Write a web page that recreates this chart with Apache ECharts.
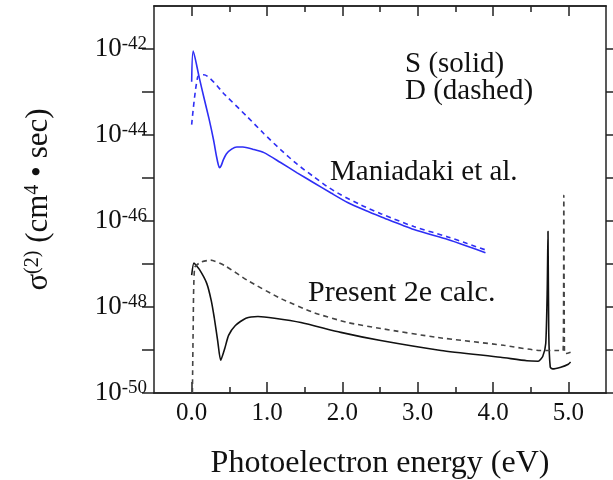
<!DOCTYPE html>
<html>
<head>
<meta charset="utf-8">
<script src="https://cdn.jsdelivr.net/npm/echarts@6/dist/echarts.min.js"></script>
<style>
    html, body {margin: 0; padding: 0; background: #fff;}
    #chart {width: 613px; height: 480px;}
</style>
</head>
<body>
<div id="chart"></div>
<script>
// 数据: 横轴为光电子能量 (eV), 纵轴存 log10(sigma)
var maniadakiSX = [0.0, 0.02, 0.1, 0.16, 0.23, 0.29, 0.33, 0.355, 0.37, 0.39, 0.42, 0.46, 0.53, 0.6, 0.68, 0.81, 0.96, 1.18, 1.4, 1.62, 1.85, 2.07, 2.3, 2.51, 2.95, 3.4, 3.65, 3.9];
var maniadakiSY = [-42.76, -42.05, -42.66, -43.11, -43.62, -44.11, -44.5, -44.7, -44.76, -44.72, -44.58, -44.44, -44.33, -44.28, -44.28, -44.33, -44.41, -44.64, -44.88, -45.11, -45.35, -45.57, -45.75, -45.9, -46.2, -46.43, -46.58, -46.74];
var maniadakiDX = [0.0, 0.08, 0.16, 0.45, 0.74, 0.96, 1.18, 1.4, 1.62, 1.8, 1.98, 2.25, 2.51, 2.95, 3.4, 3.65, 3.93];
var maniadakiDY = [-43.76, -42.65, -42.6, -43.08, -43.58, -43.97, -44.34, -44.68, -44.97, -45.2, -45.39, -45.63, -45.83, -46.13, -46.37, -46.52, -46.69];
var presentSX = [0.0, 0.03, 0.1, 0.2, 0.26, 0.3, 0.345, 0.385, 0.44, 0.49, 0.58, 0.72, 0.88, 1.1, 1.45, 1.98, 2.51, 3.31, 4.1, 4.45, 4.6, 4.66, 4.7, 4.72, 4.73, 4.74, 4.76, 4.79, 4.9, 5.0, 5.03];
var presentSY = [-47.26, -46.98, -47.12, -47.45, -47.85, -48.25, -48.78, -49.24, -48.96, -48.66, -48.43, -48.26, -48.22, -48.26, -48.36, -48.59, -48.78, -49.01, -49.17, -49.25, -49.26, -49.15, -48.85, -47.6, -46.24, -48.6, -49.4, -49.44, -49.4, -49.33, -49.28];
var presentDX = [0.01, 0.02, 0.04, 0.12, 0.25, 0.45, 0.74, 1.18, 1.62, 2.07, 2.51, 3.27, 4.14, 4.63, 4.86, 4.93, 4.94, 4.95, 4.97, 5.03];
var presentDY = [-50, -48.5, -47.08, -46.96, -46.91, -47.05, -47.38, -47.8, -48.13, -48.36, -48.5, -48.71, -48.89, -49.01, -49.01, -49.02, -45.4, -49.08, -49.08, -49.05];

// 刻度
var xMajorTicks = [0, 1, 2, 3, 4, 5];
var xMinorTicks = [0.5, 1.5, 2.5, 3.5, 4.5];
var yTicks = [-50, -49, -48, -47, -46, -45, -44, -43, -42];
var yLabels = [-50, -48, -46, -44, -42];

var SERIF = '"Liberation Serif", "DejaVu Serif", serif';
var BLUE = '#2e2ef5';
var INK = '#111';

function zip(xs, ys) {
    return xs.map(function (x, i) {
        return [x, ys[i]];
    });
}

function xAxisOf(position, ticks, len, extra) {
    var axis = {
        type: 'value',
        position: position,
        min: -0.5,
        max: 5.5,
        splitLine: {show: false},
        axisLine: {show: true, onZero: false, lineStyle: {color: '#222', width: 1.5}},
        axisTick: {show: true, inside: true, length: len, customValues: ticks, lineStyle: {color: '#222', width: 1.5}},
        axisLabel: {show: false}
    };
    return Object.assign(axis, extra || {});
}

function yAxisOf(position, len, extra) {
    var axis = {
        type: 'value',
        position: position,
        min: -50,
        max: -41,
        splitLine: {show: false},
        axisLine: {show: true, onZero: false, lineStyle: {color: '#222', width: 1.5}},
        axisTick: {show: true, inside: false, length: len, customValues: yTicks, lineStyle: {color: '#222', width: 1.5}},
        axisLabel: {show: false}
    };
    return Object.assign(axis, extra || {});
}

function lineOf(name, xs, ys, color, dashed, smooth) {
    return {
        type: 'line',
        name: name,
        data: zip(xs, ys),
        showSymbol: false,
        smooth: smooth,
        lineStyle: {color: color, width: 1.6, type: dashed ? [5, 4] : 'solid'}
    };
}

var chart = echarts.init(document.getElementById('chart'));

chart.setOption({
    animation: false,
    backgroundColor: '#fff',
    grid: {left: 154, right: 7, top: 6, bottom: 87, outerBoundsMode: 'none'},
    xAxis: [
        xAxisOf('bottom', xMajorTicks, 11, {
            name: 'Photoelectron energy (eV)',
            nameLocation: 'middle',
            nameGap: 55,
            nameTextStyle: {fontFamily: SERIF, fontSize: 32, color: INK},
            axisLabel: {
                show: true,
                customValues: xMajorTicks,
                margin: 8,
                fontFamily: SERIF,
                fontSize: 25,
                color: INK,
                formatter: function (v) {
                    return v.toFixed(1);
                }
            }
        }),
        xAxisOf('bottom', xMinorTicks, 6),
        xAxisOf('top', xMajorTicks, 10),
        xAxisOf('top', xMinorTicks, 6)
    ],
    yAxis: [
        yAxisOf('left', 12, {
            axisLabel: {
                show: true,
                customValues: yLabels,
                margin: 7,
                formatter: function (v) {
                    return '{b|10}{s|' + v + '}';
                },
                rich: {
                    b: {fontFamily: SERIF, fontSize: 27, color: INK, lineHeight: 28},
                    s: {fontFamily: SERIF, fontSize: 19, color: INK, verticalAlign: 'top', lineHeight: 19}
                }
            },
            name: 'σ{s|(2)} (cm{s|4} • sec)',
            nameLocation: 'middle',
            nameGap: 100,
            nameTextStyle: {
                fontFamily: SERIF,
                fontSize: 31,
                color: INK,
                rich: {
                    s: {fontFamily: SERIF, fontSize: 20, color: INK, verticalAlign: 'top', lineHeight: 20}
                }
            }
        }),
        yAxisOf('right', 10)
    ],
    series: [
        lineOf('Maniadaki S', maniadakiSX, maniadakiSY, BLUE, false, 0.25),
        lineOf('Maniadaki D', maniadakiDX, maniadakiDY, BLUE, true, 0.25),
        lineOf('Present S', presentSX, presentSY, INK, false, 0.2),
        lineOf('Present D', presentDX, presentDY, '#444', true, 0.2)
    ],
    graphic: [
        {type: 'text', left: 405, top: 50, style: {text: 'S (solid)', font: '29px ' + SERIF, fill: INK}},
        {type: 'text', left: 405, top: 77, style: {text: 'D (dashed)', font: '29px ' + SERIF, fill: INK}},
        {type: 'text', left: 330, top: 158, style: {text: 'Maniadaki et al.', font: '29px ' + SERIF, fill: INK}},
        {type: 'text', left: 308, top: 278, style: {text: 'Present 2e calc.', font: '30px ' + SERIF, fill: INK}}
    ]
});
</script>
</body>
</html>
